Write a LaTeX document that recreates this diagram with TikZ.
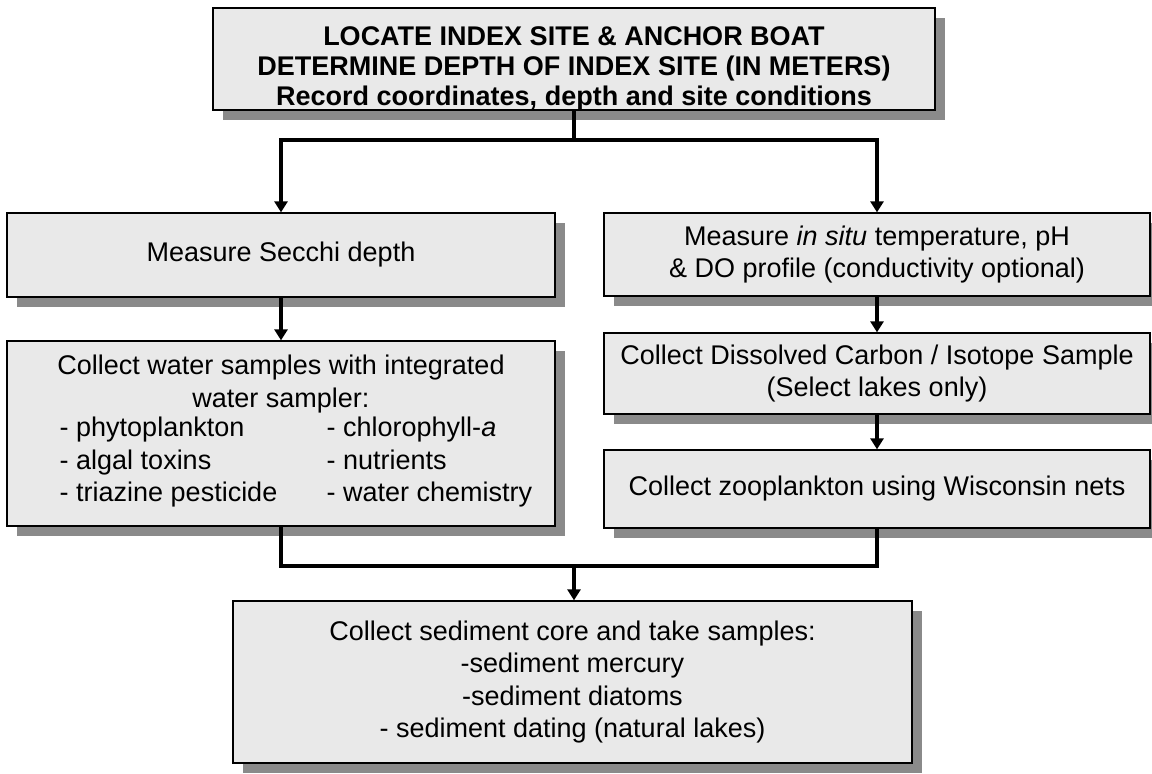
\documentclass[tikz,border=0pt]{standalone}
\usepackage{fontspec}
\setmainfont{Liberation Sans}
\usetikzlibrary{shadows,arrows.meta}
\definecolor{boxgray}{HTML}{E9E9E9}
\definecolor{shadowgray}{HTML}{8A8A8A}
\begin{document}
\begin{tikzpicture}[x=1pt,y=-1pt,
  box/.style={draw=black, line width=1.3pt, fill=boxgray, align=center, inner sep=0pt,
    font=\fontsize{27}{32.5}\selectfont,
    drop shadow={shadow xshift=10pt, shadow yshift=-10pt, fill=shadowgray, opacity=1}},
  txt/.style={align=center, inner sep=0pt, font=\fontsize{27}{32.5}\selectfont},
  conn/.style={line width=4.5pt, -{Triangle[length=11pt,width=13pt]}},
  wire/.style={line width=4.5pt}]
\useasboundingbox (0,0) rectangle (1152,774);

\node[box, minimum width=722pt, minimum height=102pt] (top) at (574,59) {};
\node[txt, font=\bfseries\fontsize{27}{30}\selectfont] (toptext) at (574,68.5)
  {LOCATE INDEX SITE \& ANCHOR BOAT\\DETERMINE DEPTH OF INDEX SITE (IN METERS)\\Record coordinates, depth and site conditions};

\node[box, minimum width=548pt, minimum height=84pt] (secchi) at (281,255) {Measure Secchi depth};

\node[box, minimum width=548pt, minimum height=185pt] (water) at (281,433.5)
  {Collect water samples with integrated\\water sampler:\\
   \hspace*{30pt}\begin{tabular}{@{}p{267pt}@{}l@{}}
   - phytoplankton & - chlorophyll-\textit{a}\\
   - algal toxins & - nutrients\\
   - triazine pesticide & - water chemistry
   \end{tabular}};

\node[box, minimum width=546pt, minimum height=83pt] (insitu) at (877,254.5)
  {Measure \textit{in situ} temperature, pH\\\& DO profile (conductivity optional)};

\node[box, minimum width=546pt, minimum height=81pt] (dissolved) at (877,373.5)
  {Collect Dissolved Carbon / Isotope Sample\\(Select lakes only)};

\node[box, minimum width=546pt, minimum height=78pt] (zoo) at (877,489)
  {Collect zooplankton using Wisconsin nets};

\node[box, minimum width=679pt, minimum height=162pt] (sediment) at (572.5,682)
  {Collect sediment core and take samples:\\-sediment mercury\\-sediment diatoms\\- sediment dating (natural lakes)};

\coordinate (j1) at (574,140);
\coordinate (j2) at (574,566);

\draw[wire] (top.south) -- (j1);
\draw[conn] (j1) -| (secchi.north);
\draw[conn] (j1) -| (insitu.north);
\draw[conn] (secchi.south) -- (water.north);
\draw[conn] (insitu.south) -- (dissolved.north);
\draw[conn] (dissolved.south) -- (zoo.north);
\draw[wire] (water.south) |- (j2) -| (zoo.south);
\draw[conn] (j2) -- (sediment.north -| j2);
\end{tikzpicture}
\end{document}
